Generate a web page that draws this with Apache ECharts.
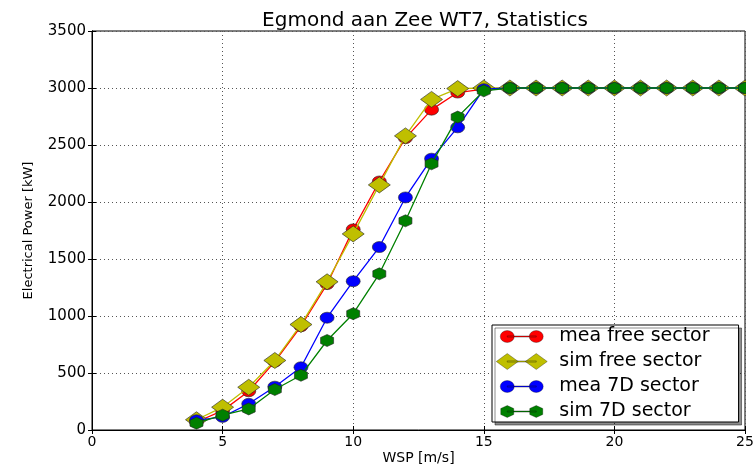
<!DOCTYPE html>
<html>
<head>
<meta charset="utf-8">
<script src="https://cdn.jsdelivr.net/npm/echarts@6/dist/echarts.min.js"></script>
<style>html,body{margin:0;padding:0;background:#fff;overflow:hidden;}#c{width:755px;height:464px;}</style>
</head>
<body>
<div id="c"></div>
<script>
var wsp = [4,5,6,7,8,9,10,11,12,13,14,15,16,17,18,19,20,21,22,23,24,25];
var meaFree = [70,170,340,600,910,1280,1760,2180,2560,2810,2960,2990,3000,3000,3000,3000,3000,3000,3000,3000,3000,3000];
var simFree = [90,200,375,610,925,1300,1720,2150,2580,2900,2995,3000,3000,3000,3000,3000,3000,3000,3000,3000,3000,3000];
var mea7D = [85,115,230,380,550,985,1305,1605,2040,2380,2655,2990,3000,3000,3000,3000,3000,3000,3000,3000,3000,3000];
var sim7D = [60,130,185,355,480,785,1020,1370,1835,2335,2745,2975,3000,3000,3000,3000,3000,3000,3000,3000,3000,3000];
var seriesNames = ['mea free sector','sim free sector','mea 7D sector','sim 7D sector'];
var seriesColors = ['#ff0000','#bfbf00','#0000ff','#008000'];
var xTicks = {min:0, max:25, interval:5};
var yTicks = {min:0, max:3500, interval:500};

function pairs(ys){ return wsp.map(function(x,i){ return [x, ys[i]]; }); }
var hex = 'path://M0,-1 L0.866,-0.5 L0.866,0.5 L0,1 L-0.866,0.5 L-0.866,-0.5 Z';
var bb = 'M0,0 M59,18 ';
function ell(cx,cy,rx,ry){ return 'M'+(cx-rx)+','+cy+' A'+rx+','+ry+' 0 1,1 '+(cx+rx)+','+cy+' A'+rx+','+ry+' 0 1,1 '+(cx-rx)+','+cy+' Z '; }
function dia(cx,cy,rx,ry){ return 'M'+(cx-rx)+','+cy+' L'+cx+','+(cy-ry)+' L'+(cx+rx)+','+cy+' L'+cx+','+(cy+ry)+' Z '; }
function hx(cx,cy,rx,ry){ return 'M'+cx+','+(cy-ry)+' L'+(cx+rx)+','+(cy-ry/2)+' L'+(cx+rx)+','+(cy+ry/2)+' L'+cx+','+(cy+ry)+' L'+(cx-rx)+','+(cy+ry/2)+' L'+(cx-rx)+','+(cy-ry/2)+' Z '; }
function seg(x1,x2,cy){ return 'M'+x1+','+(cy-0.6)+' L'+x2+','+(cy-0.6)+' L'+x2+','+(cy+0.6)+' L'+x1+','+(cy+0.6)+' Z '; }
var icons = [
  'path://'+bb+seg(12,41,9)+ell(12,9,7,6)+ell(41,9,7,6),
  'path://'+bb+seg(12,41,9)+dia(12,9,11,8)+dia(41,9,11,8),
  'path://'+bb+seg(12,41,9)+ell(12,9,7,6)+ell(41,9,7,6),
  'path://'+bb+seg(12,41,9)+hx(12,9,6.5,6)+hx(41,9,6.5,6)
];
var symbols = ['circle','diamond','circle',hex];
var sizes = [[14,11],[22,16],[14,11],[13,12]];
var datas = [meaFree, simFree, mea7D, sim7D];

var font = 'DejaVu Sans';
var plain = function(v){ return String(v); };
var chart = echarts.init(document.getElementById('c'));
var series = datas.map(function(d,i){
  return {
    name: seriesNames[i], type:'line', data: pairs(d),
    symbol: symbols[i], symbolSize: sizes[i], showAllSymbol:true,
    lineStyle:{color:seriesColors[i], width:1.3},
    itemStyle:{color:seriesColors[i], borderColor:'#222', borderWidth:0.6},
    emphasis:{disabled:true}, animation:false, z: 2+i
  };
});
chart.setOption({
  animation:false,
  title:{text:'Egmond aan Zee WT7, Statistics', left:420, textAlign:'center', top:6,
    textStyle:{fontFamily:font, fontSize:20, fontWeight:'normal', color:'#000'}},
  grid:{left:92, right:10, top:31, bottom:34, show:true, borderColor:'#000', borderWidth:1,
    containLabel:false, outerBoundsMode:'none'},
  legend:{
    left:492, top:325, orient:'vertical', itemWidth:59, itemHeight:18, itemGap:6,
    padding:[2,29,1,3], backgroundColor:'#fff', borderColor:'#000', borderWidth:1,
    shadowColor:'rgba(0,0,0,0.45)', shadowBlur:0, shadowOffsetX:3, shadowOffsetY:3,
    textStyle:{fontFamily:font, fontSize:19, color:'#000'},
    itemStyle:{borderColor:'rgba(0,0,0,0.6)', borderWidth:0.5},
    selectedMode:false,
    data: seriesNames.map(function(n,i){ return {name:n, icon:icons[i]}; })
  },
  xAxis:[{
    type:'value', min:xTicks.min, max:xTicks.max, interval:xTicks.interval,
    name:'WSP [m/s]', nameLocation:'middle', nameGap:21, nameMoveOverlap:false,
    nameTextStyle:{fontFamily:font, fontSize:14, color:'#000', verticalAlign:'top'},
    axisLine:{show:true, lineStyle:{color:'#000', width:1}},
    axisTick:{show:true, inside:true, length:4, lineStyle:{color:'#000'}},
    axisLabel:{fontFamily:font, fontSize:14, color:'#000', margin:5, formatter:plain},
    splitLine:{show:true, lineStyle:{color:'#555', type:[1,3], width:1}}
  },{
    type:'value', position:'top', min:xTicks.min, max:xTicks.max, interval:xTicks.interval,
    axisLine:{show:true, lineStyle:{color:'#000'}},
    axisTick:{show:true, inside:true, length:4, lineStyle:{color:'#000'}},
    axisLabel:{show:false}, splitLine:{show:false}
  }],
  yAxis:[{
    type:'value', min:yTicks.min, max:yTicks.max, interval:yTicks.interval,
    name:'Electrical Power [kW]', nameLocation:'middle', nameGap:57, nameRotate:90, nameMoveOverlap:false,
    nameTextStyle:{fontFamily:font, fontSize:13, color:'#000'},
    axisLine:{show:true, lineStyle:{color:'#000', width:1}},
    axisTick:{show:true, inside:true, length:4, lineStyle:{color:'#000'}},
    axisLabel:{fontFamily:font, fontSize:15, color:'#000', margin:6, formatter:plain},
    splitLine:{show:true, lineStyle:{color:'#555', type:[1,3], width:1}}
  },{
    type:'value', position:'right', min:yTicks.min, max:yTicks.max, interval:yTicks.interval,
    axisLine:{show:true, lineStyle:{color:'#000'}},
    axisTick:{show:true, inside:true, length:4, lineStyle:{color:'#000'}},
    axisLabel:{show:false}, splitLine:{show:false}
  }],
  graphic:[{type:'rect', left:746, top:20, shape:{width:9, height:410}, style:{fill:'#fff'}, z:100, silent:true}],
  series: series
});
</script>
</body>
</html>
